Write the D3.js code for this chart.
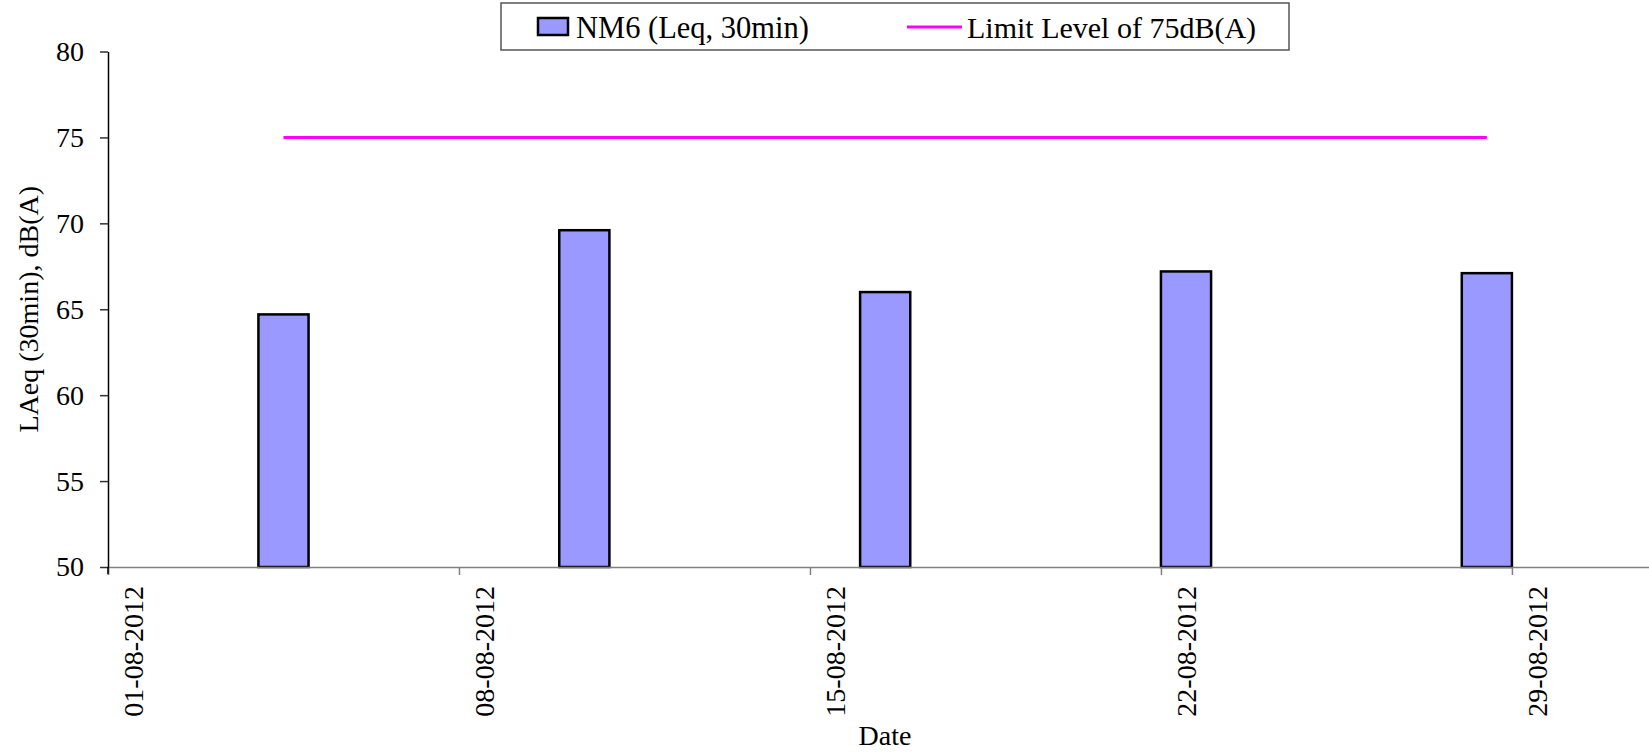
<!DOCTYPE html>
<html>
<head>
<meta charset="utf-8">
<script src="https://cdn.jsdelivr.net/npm/d3@7/dist/d3.min.js"></script>
<style>
  html, body { margin: 0; padding: 0; background: #fff; }
  svg { display: block; }
  text { font-family: "Liberation Serif", "Times New Roman", serif; fill: #000; }
</style>
</head>
<body>
<svg id="chart" width="1649" height="755"></svg>
<script>
// ---- data ----
const barDates = ["2012-08-04", "2012-08-10", "2012-08-16", "2012-08-22", "2012-08-28"];
const barValues = [64.7, 69.6, 66.0, 67.2, 67.1];
const limitValues = [75, 75, 75, 75, 75];
const xTickDates = ["2012-08-01", "2012-08-08", "2012-08-15", "2012-08-22", "2012-08-29"];
const xTickLabels = ["01-08-2012", "08-08-2012", "15-08-2012", "22-08-2012", "29-08-2012"];
const yTicks = [50, 55, 60, 65, 70, 75, 80];
const seriesNames = ["NM6 (Leq, 30min)", "Limit Level of 75dB(A)"];
const xDomain = ["2012-08-01", "2012-09-01"];
const yDomain = [50, 80];

const parse = d3.utcParse("%Y-%m-%d");
const DAY = 864e5;

const svg = d3.select("#chart");
const mLeft = 108, mTop = 51.5, mBottom = 567;
const pxPerDay = 50.14;

const x = d3.scaleUtc()
  .domain(xDomain.map(parse))
  .range([mLeft, mLeft + 31 * pxPerDay]);
const y = d3.scaleLinear().domain(yDomain).range([mBottom, mTop]);

// bars
const bars = barDates.map((d, i) => ({ date: parse(d), value: barValues[i] }));
svg.append("g").selectAll("rect").data(bars).join("rect")
  .attr("x", d => x(d.date))
  .attr("width", d => x(new Date(+d.date + DAY)) - x(d.date))
  .attr("y", d => y(d.value))
  .attr("height", d => y(yDomain[0]) - y(d.value))
  .attr("fill", "#9999FF")
  .attr("stroke", "#000")
  .attr("stroke-width", 2.5);

// x axis
const xAxis = svg.append("g")
  .attr("transform", `translate(0,${mBottom})`)
  .call(d3.axisBottom(x).tickValues(xTickDates.map(parse)).tickSize(8).tickFormat(""));
xAxis.select(".domain").attr("stroke", "#808080").attr("stroke-width", 1.5);
xAxis.selectAll(".tick line").attr("stroke", "#808080").attr("stroke-width", 1.5);

// x tick labels (rotated, centered on day slot)
svg.append("g").selectAll("text").data(xTickDates).join("text")
  .attr("transform", d => `translate(${x(new Date(+parse(d) + DAY / 2))},586) rotate(-90)`)
  .attr("text-anchor", "end")
  .attr("dy", "0.35em")
  .attr("font-size", 28)
  .text((d, i) => xTickLabels[i]);

// y axis
const yAxis = svg.append("g")
  .attr("transform", `translate(${mLeft},0)`)
  .call(d3.axisLeft(y).tickValues(yTicks).tickSize(8).tickPadding(16).tickSizeOuter(0));
yAxis.select(".domain").attr("stroke", "#000").attr("stroke-width", 1.5);
yAxis.selectAll(".tick line").attr("stroke", "#333").attr("stroke-width", 1.5);
yAxis.selectAll(".tick text").attr("font-size", 28).attr("font-family", "Liberation Serif, serif").attr("fill", "#000");
// extend y axis below x axis
svg.append("line").attr("x1", mLeft).attr("x2", mLeft).attr("y1", mBottom).attr("y2", mBottom + 7)
  .attr("stroke", "#000").attr("stroke-width", 1.5);

// limit line
const line = d3.line()
  .x(d => x(new Date(+parse(d.date) + DAY / 2)))
  .y(d => y(d.value));
svg.append("path")
  .datum(barDates.map((d, i) => ({ date: d, value: limitValues[i] })))
  .attr("d", line)
  .attr("fill", "none")
  .attr("stroke", "#FF00FF")
  .attr("stroke-width", 3);

// axis titles
svg.append("text")
  .attr("transform", `translate(28,${(mTop + mBottom) / 2}) rotate(-90)`)
  .attr("text-anchor", "middle")
  .attr("dy", "0.35em")
  .attr("font-size", 28)
  .text("LAeq (30min), dB(A)");
svg.append("text")
  .attr("x", 885).attr("y", 745)
  .attr("text-anchor", "middle")
  .attr("font-size", 28)
  .text("Date");

// legend
const lg = svg.append("g");
lg.append("rect").attr("x", 501).attr("y", 3).attr("width", 788).attr("height", 47)
  .attr("fill", "#fff").attr("stroke", "#555").attr("stroke-width", 1.5);
lg.append("rect").attr("x", 538).attr("y", 18).attr("width", 30).attr("height", 17)
  .attr("fill", "#9999FF").attr("stroke", "#000").attr("stroke-width", 2.5);
lg.append("text").attr("x", 576).attr("y", 27).attr("dy", "0.35em").attr("font-size", 30.5).text(seriesNames[0]);
lg.append("line").attr("x1", 907).attr("x2", 962).attr("y1", 27).attr("y2", 27)
  .attr("stroke", "#FF00FF").attr("stroke-width", 3);
lg.append("text").attr("x", 967).attr("y", 27).attr("dy", "0.35em").attr("font-size", 30).text(seriesNames[1]);
</script>
</body>
</html>
